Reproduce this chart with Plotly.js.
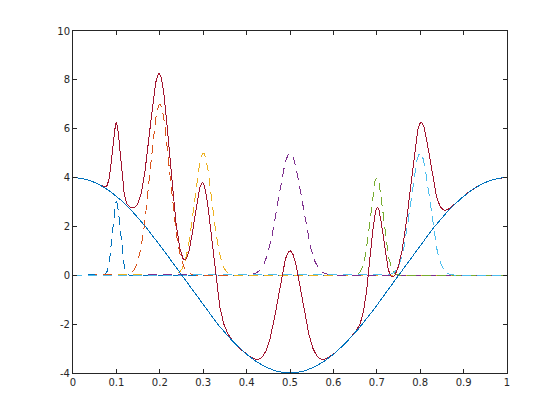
<!DOCTYPE html>
<html>
<head>
<meta charset="utf-8">
<script src="https://cdn.plot.ly/plotly-3.0.1.min.js"></script>
<style>
html,body{margin:0;padding:0;background:#fff;}
#plot{width:560px;height:420px;}
#plot .scatterlayer path{shape-rendering:crispEdges;}
</style>
</head>
<body>
<div id="plot"></div>
<script>
// Values
var xTicks = [0, 0.1, 0.2, 0.3, 0.4, 0.5, 0.6, 0.7, 0.8, 0.9, 1];
var yTicks = [-4, -2, 0, 2, 4, 6, 8, 10];
var cosAmplitude = 4;            // baseline wave: 4 at x=0, -4 at x=0.5, 4 at x=1
var cosPeriod = 1;
var peakCenters = [0.1, 0.2, 0.3, 0.5, 0.7, 0.8];
var peakHeights = [3, 7, 5, 5, 4, 5];
var peakWidths  = [0.0125, 0.032, 0.0285, 0.039, 0.021, 0.031];
var peakColors  = ['rgb(0,114,189)', 'rgb(217,83,25)', 'rgb(237,177,32)', 'rgb(126,47,142)', 'rgb(119,172,48)', 'rgb(77,190,238)'];
var cosColor = 'rgb(0,114,189)';
var sumColor = 'rgb(162,20,47)';
var nSamples = 1001;

var xs = [];
for (var i = 0; i < nSamples; i++) xs.push(i / (nSamples - 1));

function peakCurve(k) {
  return xs.map(function (x) {
    var d = (x - peakCenters[k]) / peakWidths[k];
    return peakHeights[k] * Math.exp(-d * d);
  });
}
var cosY = xs.map(function (x) { return cosAmplitude * Math.cos(2 * Math.PI * x / cosPeriod); });
var peaks = peakCenters.map(function (c, k) { return peakCurve(k); });
var sumY = cosY.map(function (v, i) {
  var s = v;
  for (var k = 0; k < peaks.length; k++) s += peaks[k][i];
  return s;
});

var traces = [];
peaks.forEach(function (py, k) {
  traces.push({x: xs, y: py, type: 'scatter', mode: 'lines',
    line: {color: peakColors[k], width: 1, dash: '9px,6px'}, hoverinfo: 'skip'});
});
traces.push({x: xs, y: sumY, type: 'scatter', mode: 'lines', line: {color: sumColor, width: 1}, hoverinfo: 'skip'});
traces.push({x: xs, y: cosY, type: 'scatter', mode: 'lines', line: {color: cosColor, width: 1}, hoverinfo: 'skip'});

var axisCommon = {
  showgrid: false, zeroline: false, showline: true, mirror: 'ticks',
  linecolor: 'rgb(38,38,38)', linewidth: 1,
  ticks: 'inside', ticklen: 4, tickwidth: 1, tickcolor: 'rgb(38,38,38)',
  tickfont: {family: 'DejaVu Sans, sans-serif', size: 10, color: 'rgb(38,38,38)'}
};
var layout = {
  width: 560, height: 420,
  margin: {l: 73, r: 53, t: 31, b: 47, pad: 0},
  paper_bgcolor: '#fff', plot_bgcolor: '#fff',
  showlegend: false,
  xaxis: Object.assign({}, axisCommon, {range: [0, 1], tickvals: xTicks, ticktext: xTicks.map(String)}),
  yaxis: Object.assign({}, axisCommon, {range: [-4, 10], tickvals: yTicks, ticktext: yTicks.map(String)})
};
Plotly.newPlot('plot', traces, layout, {staticPlot: true, displayModeBar: false});
</script>
</body>
</html>
